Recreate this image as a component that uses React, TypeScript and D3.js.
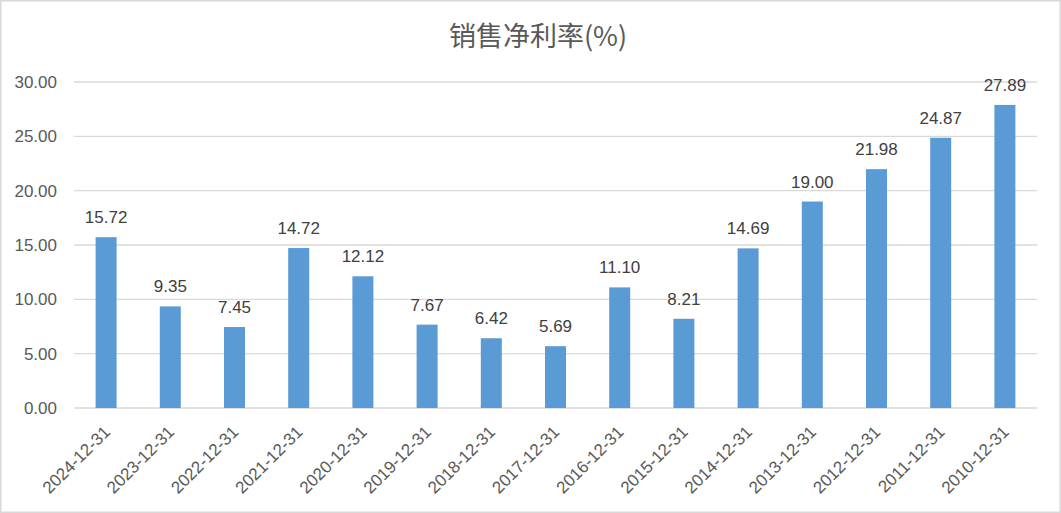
import React from "react";
import * as d3 from "d3";

const categories = ["2024-12-31","2023-12-31","2022-12-31","2021-12-31","2020-12-31","2019-12-31","2018-12-31","2017-12-31","2016-12-31","2015-12-31","2014-12-31","2013-12-31","2012-12-31","2011-12-31","2010-12-31"];
const values = [15.72, 9.35, 7.45, 14.72, 12.12, 7.67, 6.42, 5.69, 11.10, 8.21, 14.69, 19.00, 21.98, 24.87, 27.89];
const yTicks = [0, 5, 10, 15, 20, 25, 30];
const title = "销售净利率(%)";

export default function App() {
  const W = 1061, H = 513;
  const left = 74, right = 1037, top = 82, bottom = 408;
  const x = d3.scaleBand<string>().domain(categories).range([left, right]).padding(0);
  const y = d3.scaleLinear().domain([0, 30]).range([bottom, top]);
  const barW = 21;
  const font = "'Liberation Sans', Arial, sans-serif";
  return (
    <div style={{ position: "absolute", left: 0, top: 0 }}>
      <svg width={W} height={H} style={{ display: "block" }} fontFamily={font}>
        <rect x={0.75} y={0.75} width={W - 1.5} height={H - 1.5} fill="#fff" stroke="#d9d9d9" strokeWidth={1.5} />
        <text x={538} y={46} textAnchor="middle" fontSize={27} fill="#595959" fontFamily="'Noto Sans CJK SC', sans-serif">{title}</text>
        {yTicks.map(t => (
          <g key={t}>
            <line x1={left} x2={right} y1={y(t)} y2={y(t)} stroke="#d9d9d9" strokeWidth={1.3} />
            <text x={57} y={y(t)} dy="0.36em" textAnchor="end" fontSize={17} fill="#595959">{t.toFixed(2)}</text>
          </g>
        ))}
        {categories.map((c, i) => {
          const cx = (x(c) as number) + x.bandwidth() / 2;
          return (
            <g key={c}>
              <rect x={cx - barW / 2} y={y(values[i])} width={barW} height={bottom - y(values[i])} fill="#5b9bd5" />
              <text x={cx} y={y(values[i]) - 14} textAnchor="middle" fontSize={17} fill="#404040">{values[i].toFixed(2)}</text>
              <text transform={`translate(${cx + 5},${bottom + 25}) rotate(-45)`} textAnchor="end" fontSize={17} fill="#595959">{c}</text>
            </g>
          );
        })}
      </svg>
    </div>
  );
}
